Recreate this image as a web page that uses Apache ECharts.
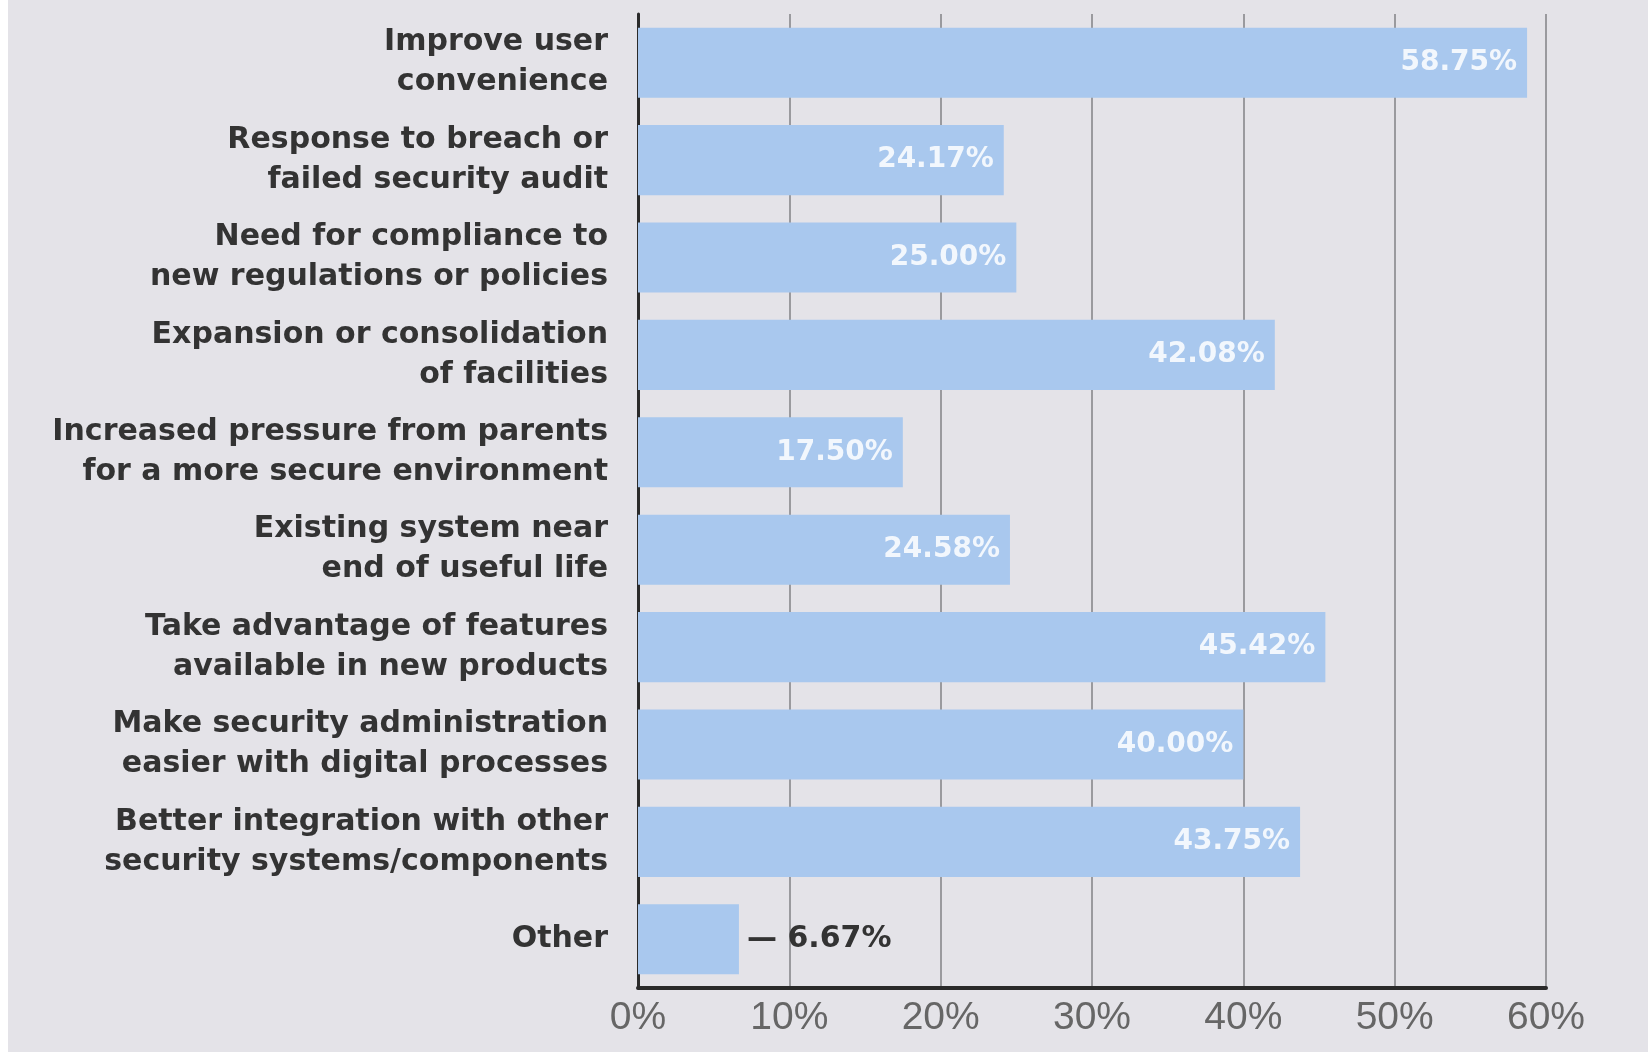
<!DOCTYPE html>
<html>
<head>
<meta charset="utf-8">
<script src="https://cdn.jsdelivr.net/npm/echarts@6/dist/echarts.min.js"></script>
<style>
  html, body { margin: 0; padding: 0; background: #ffffff; }
  #chart { position: absolute; left: 8px; top: 0; width: 1640px; height: 1052px; }
</style>
</head>
<body>
<div id="chart"></div>
<script>
const categories = [
  'Improve user\nconvenience',
  'Response to breach or\nfailed security audit',
  'Need for compliance to\nnew regulations or policies',
  'Expansion or consolidation\nof facilities',
  'Increased pressure from parents\nfor a more secure environment',
  'Existing system near\nend of useful life',
  'Take advantage of features\navailable in new products',
  'Make security administration\neasier with digital processes',
  'Better integration with other\nsecurity systems/components',
  'Other'
]
const values = [58.75, 24.17, 25.00, 42.08, 17.50, 24.58, 45.42, 40.00, 43.75, 6.67]
const xTicks = [0, 10, 20, 30, 40, 50, 60]

const chart = echarts.init(document.getElementById('chart'))

// the last bar is too short for an inside label, so it gets a dash outside
const barData = values.map((v, i) => {
  if (i === values.length - 1) {
    return {
      value: v,
      label: {
        position: 'right',
        distance: 8,
        color: '#333',
        fontSize: 30,
        formatter: p => '— ' + p.value.toFixed(2) + '%'
      }
    }
  }
  return v
})

chart.setOption({
  backgroundColor: '#e4e3e8',
  animation: false,
  grid: {
    left: 630,
    right: 102,
    top: 14,
    bottom: 64
  },
  xAxis: {
    type: 'value',
    min: xTicks[0],
    max: xTicks[xTicks.length - 1],
    interval: 10,
    axisLine: {
      show: true,
      lineStyle: { color: '#2a2a2a', width: 4 }
    },
    axisTick: { show: false },
    axisLabel: {
      color: '#666',
      fontFamily: 'Liberation Sans',
      fontSize: 39,
      margin: 11,
      formatter: v => v + '%'
    },
    splitLine: {
      show: true,
      lineStyle: { color: '#9a9a9e', width: 2 }
    }
  },
  yAxis: {
    type: 'category',
    inverse: true,
    data: categories,
    axisLine: {
      show: true,
      lineStyle: { color: '#2a2a2a', width: 3 }
    },
    axisTick: { show: false },
    axisLabel: {
      color: '#333',
      fontFamily: 'DejaVu Sans',
      fontWeight: 'bold',
      fontSize: 30,
      lineHeight: 40,
      margin: 30,
      align: 'right'
    }
  },
  series: [{
    type: 'bar',
    data: barData,
    barCategoryGap: '28%',
    itemStyle: { color: '#a9c8ee' },
    label: {
      show: true,
      position: 'insideRight',
      distance: 10,
      color: 'rgba(255,255,255,0.85)',
      fontFamily: 'DejaVu Sans',
      fontWeight: 'bold',
      fontSize: 28,
      formatter: p => p.value.toFixed(2) + '%'
    }
  }]
})
</script>
</body>
</html>
